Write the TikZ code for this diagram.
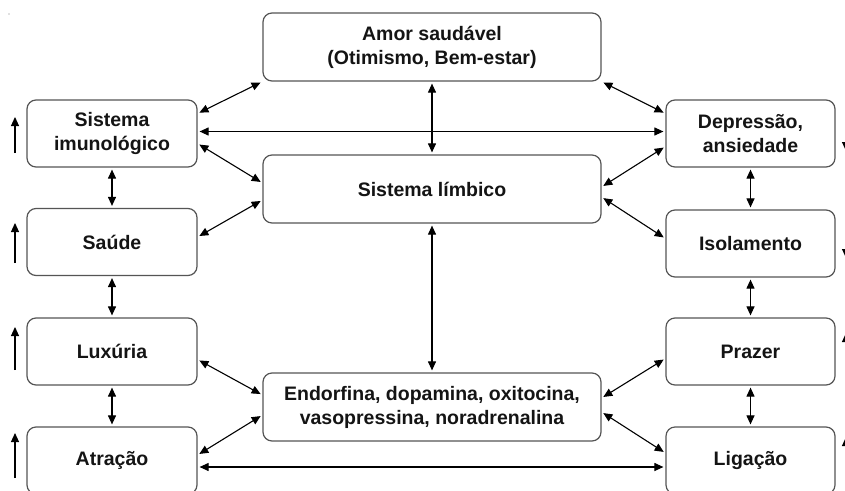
\documentclass[tikz,border=0pt]{standalone}
\usepackage{fontspec}
\setmainfont{Liberation Sans}
\usetikzlibrary{arrows.meta}
\definecolor{boxgray}{HTML}{555555}
\definecolor{txt}{HTML}{141414}
\begin{document}
\begin{tikzpicture}[x=1pt,y=-1pt,
  box/.style={draw=boxgray, line width=1.2pt, rounded corners=9pt, align=center,
    font=\bfseries\fontsize{19.5}{24}\selectfont, text=txt, inner sep=0pt},
  lbox/.style={box, minimum width=170pt, minimum height=67pt},
  rbox/.style={box, minimum width=169pt, minimum height=67pt},
  cbox/.style={box, minimum width=338pt, minimum height=68pt},
  link/.style={{Triangle[length=9pt,width=8pt]}-{Triangle[length=9pt,width=8pt]},
    line width=1.1pt, shorten <=2pt, shorten >=2pt},
  trend/.style={-{Triangle[length=9pt,width=8pt]}, line width=1.1pt}]
\clip (0,0) rectangle (845,490);
\fill[white] (0,0) rectangle (845,490);
\fill[gray] (9,14) circle (0.7);

% nodes
\node[cbox] (amor) at (432,47) {Amor saudável\\(Otimismo, Bem-estar)};
\node[cbox] (limb) at (432,189) {Sistema límbico};
\node[cbox] (endo) at (432,407) {Endorfina, dopamina, oxitocina,\\vasopressina, noradrenalina};

\node[lbox] (si)  at (112,133.5) {Sistema\\imunológico};
\node[lbox] (sau) at (112,242) {Saúde};
\node[lbox] (lux) at (112,351.5) {Luxúria};
\node[lbox] (atr) at (112,460.5) {Atração};

\node[rbox] (dep) at (750.5,133.5) {Depressão,\\ansiedade};
\node[rbox] (iso) at (750.5,243.5) {Isolamento};
\node[rbox] (pra) at (750.5,351.5) {Prazer};
\node[rbox] (lig) at (750.5,460.5) {Ligação};

% connectors
\draw[link] ([yshift=20]si.east) -- (amor.south west);
\draw[link] (amor.south east) -- ([yshift=20]dep.west);
\draw[link] (amor.south) -- (limb.north);
\draw[link] ([yshift=2]si.east) -- ([yshift=2]dep.west);
\draw[link] ([yshift=-10]si.east) -- ([yshift=6]limb.west);
\draw[link] ([yshift=5]sau.east) -- ([yshift=-11]limb.west);
\draw[link] ([yshift=-13]dep.west) -- ([yshift=2]limb.east);
\draw[link] ([yshift=5]iso.west) -- ([yshift=-8]limb.east);
\draw[link] (si.south) -- (sau.north);
\draw[link] (sau.south) -- (lux.north);
\draw[link] (lux.south) -- (atr.north);
\draw[link] (dep.south) -- (iso.north);
\draw[link] (iso.south) -- (pra.north);
\draw[link] (pra.south) -- (lig.north);
\draw[link] (limb.south) -- (endo.north);
\draw[link] ([yshift=-8]lux.east) -- ([yshift=12]endo.west);
\draw[link] ([yshift=5.5]atr.east) -- ([yshift=-8]endo.west);
\draw[link] ([yshift=-7]pra.west) -- ([yshift=9]endo.east);
\draw[link] ([yshift=7.5]lig.west) -- ([yshift=-5]endo.east);
\draw[link] ([yshift=-6.5]atr.east) -- ([yshift=-6.5]lig.west);

% trend arrows
\coordinate (l1b) at (15,153); \coordinate (l1t) at (15,117);
\coordinate (l2b) at (15,263); \coordinate (l2t) at (15,223);
\coordinate (l3b) at (15,370); \coordinate (l3t) at (15,327);
\coordinate (l4b) at (15,478); \coordinate (l4t) at (15,433);
\draw[trend] (l1b) -- (l1t);
\draw[trend] (l2b) -- (l2t);
\draw[trend] (l3b) -- (l3t);
\draw[trend] (l4b) -- (l4t);
\coordinate (r1t) at (846,110); \coordinate (r1b) at (846,151);
\coordinate (r2t) at (846,217); \coordinate (r2b) at (846,258);
\coordinate (r3b) at (846,373); \coordinate (r3t) at (846,333);
\coordinate (r4b) at (846,477); \coordinate (r4t) at (846,437);
\draw[trend] (r1t) -- (r1b);
\draw[trend] (r2t) -- (r2b);
\draw[trend] (r3b) -- (r3t);
\draw[trend] (r4b) -- (r4t);
\end{tikzpicture}
\end{document}
